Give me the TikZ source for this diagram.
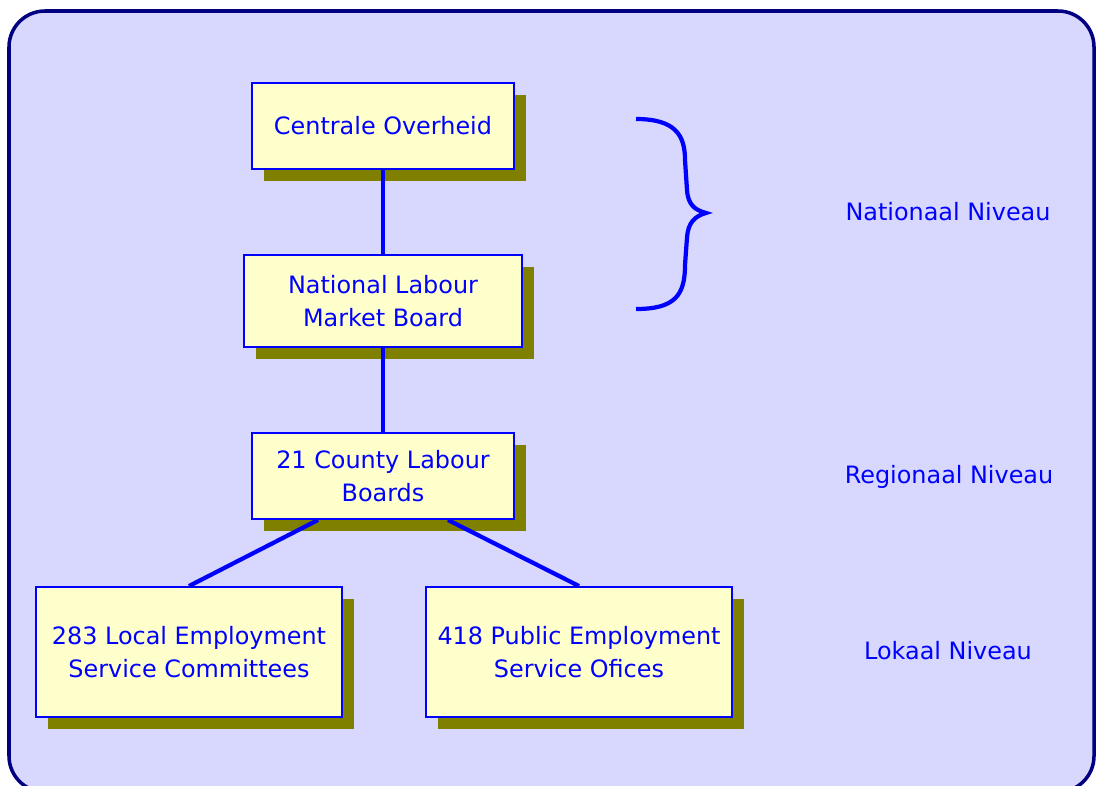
\documentclass[tikz,border=0pt]{standalone}
\usepackage{fontspec}
\setmainfont{DejaVu Sans}
\usetikzlibrary{shadows}
\definecolor{framefill}{HTML}{D8D8FF}
\definecolor{framedraw}{HTML}{000080}
\definecolor{boxfill}{HTML}{FFFFCC}
\definecolor{shadowolive}{HTML}{808000}
\begin{document}
\begin{tikzpicture}[
        orgbox/.style={draw=blue, line width=1.1pt, fill=boxfill, text=blue, align=center,
            font=\fontsize{13.6}{18.8}\selectfont,
            general shadow={fill=shadowolive, shadow xshift=0.24cm, shadow yshift=-0.24cm}},
        level/.style={text=blue, font=\fontsize{13.6}{18.8}\selectfont},
        link/.style={draw=blue, line width=2.4pt}]
            \clip (0,0) rectangle (21.92,-15.7);
            \draw[framedraw, fill=framefill, line width=2pt, rounded corners=0.72cm] (0.18,-0.22) rectangle (21.88,-15.84);

            \node[orgbox, minimum width=5.24cm, minimum height=1.72cm] (CO) at (7.66,-2.52) {Centrale Overheid};
            \node[orgbox, minimum width=5.56cm, minimum height=1.84cm] (NLMB) at (7.66,-6.02) {National Labour\\Market Board};
            \node[orgbox, minimum width=5.24cm, minimum height=1.72cm] (CLB) at (7.66,-9.52) {21 County Labour\\Boards};
            \node[orgbox, minimum width=6.12cm, minimum height=2.6cm] (LESC) at (3.78,-13.04) {283 Local Employment\\Service Committees};
            \node[orgbox, minimum width=6.12cm, minimum height=2.6cm] (PESO) at (11.58,-13.04) {418 Public Employment\\Service Ofices};

            \node[level] (nat) at (18.96,-4.24) {Nationaal Niveau};
            \node[level] (reg) at (18.98,-9.54) {Regionaal Niveau};
            \node[level] (lok) at (18.96,-13.02) {Lokaal Niveau};

            \draw[link] (CO) to (NLMB); \draw[link] (NLMB) to (CLB);
            \draw[link] ([xshift=-1.3cm]CLB.south) to (LESC.north);
            \draw[link] ([xshift=1.3cm]CLB.south) to (PESO.north);

            % brace
            \draw[blue, line width=2.4pt] (12.72,-2.38) .. controls (13.5,-2.38) and (13.7,-2.7) .. (13.7,-3.2)
                -- (13.74,-3.8) .. controls (13.76,-4.1) and (13.9,-4.2) .. (14.12,-4.26)
                .. controls (13.9,-4.32) and (13.76,-4.45) .. (13.74,-4.75)
                -- (13.7,-5.3) .. controls (13.7,-5.9) and (13.5,-6.18) .. (12.72,-6.18);
        \end{tikzpicture}
\end{document}
